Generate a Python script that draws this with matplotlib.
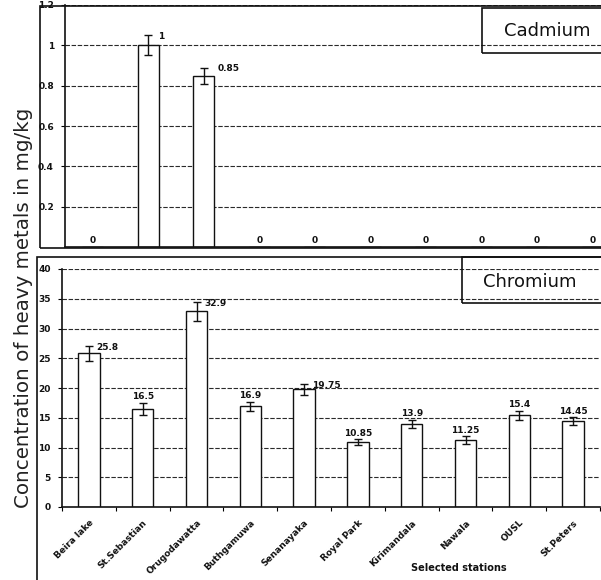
import numpy as np
import matplotlib
matplotlib.use('Agg')
import matplotlib.pyplot as plt
from matplotlib.patches import Rectangle

stations = ['Beira lake', 'St.Sebastian', 'Orugodawatta', 'Buthgamuwa', 'Senanayaka',
            'Royal Park', 'Kirimandala', 'Nawala', 'OUSL', 'St.Peters']
cd_values = [0, 1, 0.85, 0, 0, 0, 0, 0, 0, 0]
cd_errors = [0, 0.05, 0.04, 0, 0, 0, 0, 0, 0, 0]
cr_values = [25.8, 16.5, 32.9, 16.9, 19.75, 10.85, 13.9, 11.25, 15.4, 14.45]
cr_errors = [1.3, 1.0, 1.6, 0.8, 1.0, 0.5, 0.7, 0.6, 0.8, 0.6]
cr_labels = ['25.8', '16.5', '32.9', '16.9', '19.75', '10.85', '13.9', '11.25', '15.4', '14.45']

W, H = 601, 580
fig = plt.figure(figsize=(W / 100, H / 100), dpi=100)
fig.patch.set_facecolor('white')


def px_axes(x0, y0, x1, y1):
    # pixel box (top-left origin) -> figure fraction axes
    return fig.add_axes([x0 / W, 1 - y1 / H, (x1 - x0) / W, (y1 - y0) / H])


def px_rect(x0, y0, x1, y1, lw=1.2):
    fig.patches.append(Rectangle((x0 / W, 1 - y1 / H), (x1 - x0) / W, (y1 - y0) / H,
                                 transform=fig.transFigure, fill=False,
                                 edgecolor='#111111', linewidth=lw))


tick_font = dict(fontsize=6.5, fontweight='bold', color='#111111')
x = np.arange(len(stations))


def style_axes(ax, minor_ticks=True):
    ax.set_xlim(-0.5, len(stations) - 0.5)
    for s in ['top', 'right']:
        ax.spines[s].set_visible(False)
    for s in ['left', 'bottom']:
        ax.spines[s].set_color('#111111')
        ax.spines[s].set_linewidth(1.2)
    ax.yaxis.grid(True, linestyle=(0, (4, 1.5)), color='#2a2a2a', linewidth=0.8)
    ax.set_axisbelow(True)
    ax.tick_params(axis='y', length=3, width=0.8, pad=5)
    if minor_ticks:
        ax.set_xticks(np.arange(-0.5, len(stations), 1), minor=True)
        ax.tick_params(axis='x', which='minor', length=3, width=0.8)
    ax.tick_params(axis='x', which='major', length=0)


# ── Cadmium panel ────────────────────────────────────────────────────────────
px_rect(40, 6, 620, 248)
ax1 = px_axes(65, 5, 620, 247)
style_axes(ax1, minor_ticks=False)
ax1.bar(x, cd_values, 0.38, color='white', edgecolor='#111111', linewidth=1.0, zorder=2)
ax1.errorbar(x[1:3], cd_values[1:3], yerr=cd_errors[1:3], fmt='none', ecolor='#111111',
             elinewidth=1.0, capsize=3, capthick=1.0, zorder=3)
ax1.set_ylim(0, 1.2)
ax1.set_yticks([0.2, 0.4, 0.6, 0.8, 1.0, 1.2])
ax1.set_yticklabels(['0.2', '0.4', '0.6', '0.8', '1', '1.2'], **tick_font)
ax1.set_xticks(x)
ax1.set_xticklabels([])
for i, v in enumerate(cd_values):
    if v == 0:
        ax1.text(i, 0.012, '0', ha='center', va='bottom', **tick_font)
ax1.text(1.18, 1.045, '1', ha='left', va='center', **tick_font)
ax1.text(2.25, 0.885, '0.85', ha='left', va='center', **tick_font)

px_rect(482, 8, 620, 53)
fig.text(547 / W, 1 - 31 / H, 'Cadmium', ha='center', va='center', fontsize=13, color='#111111')

# ── Chromium panel ───────────────────────────────────────────────────────────
px_rect(37, 257, 620, 600)
ax2 = px_axes(62, 269, 600, 507)
style_axes(ax2)
ax2.bar(x, cr_values, 0.4, color='white', edgecolor='#111111', linewidth=1.0, zorder=2)
ax2.errorbar(x, cr_values, yerr=cr_errors, fmt='none', ecolor='#111111',
             elinewidth=1.0, capsize=3, capthick=1.0, zorder=3)
ax2.set_ylim(0, 40)
ax2.set_yticks(np.arange(0, 41, 5))
ax2.set_yticklabels([str(t) for t in range(0, 41, 5)], **tick_font)
ax2.get_ygridlines()[0].set_visible(False)
ax2.set_xticks(x)
ax2.set_xticklabels(stations, rotation=45, ha='right', rotation_mode='anchor', **tick_font)
ax2.tick_params(axis='x', which='major', pad=8)

right_side = {0, 2, 4}
for i, (v, e, lab) in enumerate(zip(cr_values, cr_errors, cr_labels)):
    if i in right_side:
        ax2.text(i + 0.14, v + e - 0.3, lab, ha='left', va='center', **tick_font)
    else:
        ax2.text(i, v + e + 0.3, lab, ha='center', va='bottom', **tick_font)

ax2.set_xlabel('Selected stations', fontsize=7, fontweight='bold', color='#111111')
ax2.xaxis.set_label_coords(0.737, -0.235)

px_rect(462, 257, 620, 303)
fig.text(530 / W, 1 - 282 / H, 'Chromium', ha='center', va='center', fontsize=13, color='#111111')

fig.text(24 / W, 1 - 308 / H, 'Concentration of heavy metals in mg/kg', rotation=90,
         ha='center', va='center', fontsize=14.3, color='#222222')

fig.savefig('out.png', dpi=100, facecolor='white')
